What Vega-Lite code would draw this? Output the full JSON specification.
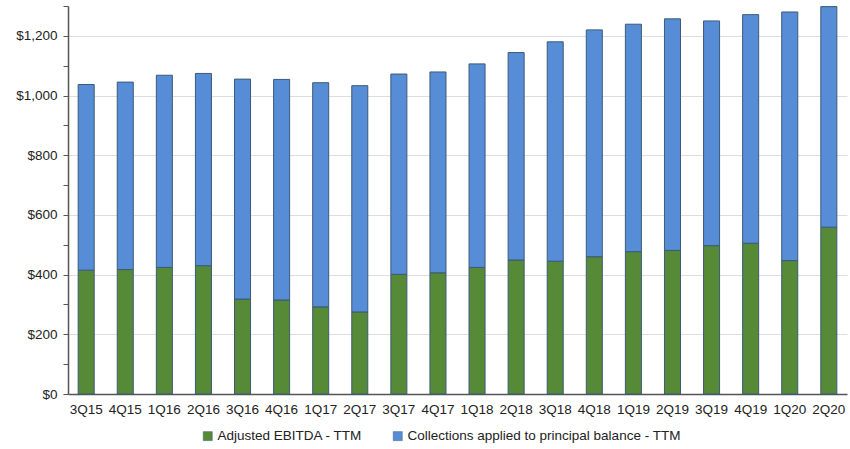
{
  "$schema": "https://vega.github.io/schema/vega-lite/v6.json",
  "width": 779,
  "height": 388,
  "autosize": {"type": "none"},
  "padding": {"left": 68, "top": 6, "right": 3, "bottom": 55},
  "background": "white",
  "config": {
    "font": "Liberation Sans",
    "view": {"stroke": null}
  },
  "data": {
    "values": [
      {"q": "3Q15", "series": "Adjusted EBITDA - TTM", "value": 415},
      {"q": "3Q15", "series": "Collections applied to principal balance - TTM", "value": 622},
      {"q": "4Q15", "series": "Adjusted EBITDA - TTM", "value": 417},
      {"q": "4Q15", "series": "Collections applied to principal balance - TTM", "value": 628},
      {"q": "1Q16", "series": "Adjusted EBITDA - TTM", "value": 424},
      {"q": "1Q16", "series": "Collections applied to principal balance - TTM", "value": 644},
      {"q": "2Q16", "series": "Adjusted EBITDA - TTM", "value": 430},
      {"q": "2Q16", "series": "Collections applied to principal balance - TTM", "value": 644},
      {"q": "3Q16", "series": "Adjusted EBITDA - TTM", "value": 318},
      {"q": "3Q16", "series": "Collections applied to principal balance - TTM", "value": 737},
      {"q": "4Q16", "series": "Adjusted EBITDA - TTM", "value": 315},
      {"q": "4Q16", "series": "Collections applied to principal balance - TTM", "value": 739},
      {"q": "1Q17", "series": "Adjusted EBITDA - TTM", "value": 292},
      {"q": "1Q17", "series": "Collections applied to principal balance - TTM", "value": 751},
      {"q": "2Q17", "series": "Adjusted EBITDA - TTM", "value": 275},
      {"q": "2Q17", "series": "Collections applied to principal balance - TTM", "value": 758},
      {"q": "3Q17", "series": "Adjusted EBITDA - TTM", "value": 401},
      {"q": "3Q17", "series": "Collections applied to principal balance - TTM", "value": 671},
      {"q": "4Q17", "series": "Adjusted EBITDA - TTM", "value": 406},
      {"q": "4Q17", "series": "Collections applied to principal balance - TTM", "value": 673},
      {"q": "1Q18", "series": "Adjusted EBITDA - TTM", "value": 424},
      {"q": "1Q18", "series": "Collections applied to principal balance - TTM", "value": 682},
      {"q": "2Q18", "series": "Adjusted EBITDA - TTM", "value": 449},
      {"q": "2Q18", "series": "Collections applied to principal balance - TTM", "value": 695},
      {"q": "3Q18", "series": "Adjusted EBITDA - TTM", "value": 445},
      {"q": "3Q18", "series": "Collections applied to principal balance - TTM", "value": 735},
      {"q": "4Q18", "series": "Adjusted EBITDA - TTM", "value": 460},
      {"q": "4Q18", "series": "Collections applied to principal balance - TTM", "value": 760},
      {"q": "1Q19", "series": "Adjusted EBITDA - TTM", "value": 477},
      {"q": "1Q19", "series": "Collections applied to principal balance - TTM", "value": 762},
      {"q": "2Q19", "series": "Adjusted EBITDA - TTM", "value": 481},
      {"q": "2Q19", "series": "Collections applied to principal balance - TTM", "value": 776},
      {"q": "3Q19", "series": "Adjusted EBITDA - TTM", "value": 497},
      {"q": "3Q19", "series": "Collections applied to principal balance - TTM", "value": 753},
      {"q": "4Q19", "series": "Adjusted EBITDA - TTM", "value": 505},
      {"q": "4Q19", "series": "Collections applied to principal balance - TTM", "value": 766},
      {"q": "1Q20", "series": "Adjusted EBITDA - TTM", "value": 447},
      {"q": "1Q20", "series": "Collections applied to principal balance - TTM", "value": 833},
      {"q": "2Q20", "series": "Adjusted EBITDA - TTM", "value": 559},
      {"q": "2Q20", "series": "Collections applied to principal balance - TTM", "value": 739}
    ]
  },
  "mark": {"type": "bar", "stroke": "#3b5a78", "strokeWidth": 1},
  "encoding": {
    "x": {
      "field": "q",
      "type": "nominal",
      "sort": null,
      "title": null,
      "scale": {"paddingInner": 0.59, "paddingOuter": 0.26},
      "axis": {
        "labelAngle": 0,
        "labelFontSize": 13.5,
        "labelColor": "#222222",
        "labelPadding": 8,
        "ticks": false,
        "domainColor": "#555555",
        "domainWidth": 1.5,
        "grid": false
      }
    },
    "y": {
      "field": "value",
      "type": "quantitative",
      "aggregate": "sum",
      "stack": "zero",
      "title": null,
      "scale": {"domain": [0, 1300], "nice": false},
      "axis": {
        "values": [0, 100, 200, 300, 400, 500, 600, 700, 800, 900, 1000, 1100, 1200, 1300],
        "labelExpr": "datum.value % 200 === 0 ? '$' + format(datum.value, ',') : ''",
        "labelFontSize": 13.5,
        "labelColor": "#222222",
        "labelPadding": 6,
        "tickSize": 5,
        "tickColor": "#555555",
        "domainColor": "#555555",
        "domainWidth": 1.5,
        "gridColor": "#dedede",
        "gridOpacity": {"condition": {"test": "datum.value % 200 === 0 && datum.value > 0", "value": 1}, "value": 0}
      }
    },
    "color": {
      "field": "series",
      "type": "nominal",
      "scale": {
        "domain": ["Adjusted EBITDA - TTM", "Collections applied to principal balance - TTM"],
        "range": ["#568a36", "#578dd6"]
      },
      "legend": {
        "title": null,
        "orient": "none",
        "legendX": 133,
        "legendY": 423,
        "direction": "horizontal",
        "symbolType": "square",
        "symbolSize": 81,
        "symbolStrokeColor": "#3b5a78",
        "symbolStrokeWidth": 0.5,
        "labelFontSize": 13.5,
        "labelColor": "#222222",
        "labelLimit": 0,
        "labelOffset": 3,
        "columnPadding": 28
      }
    },
    "order": {"field": "series", "sort": "ascending"}
  }
}
